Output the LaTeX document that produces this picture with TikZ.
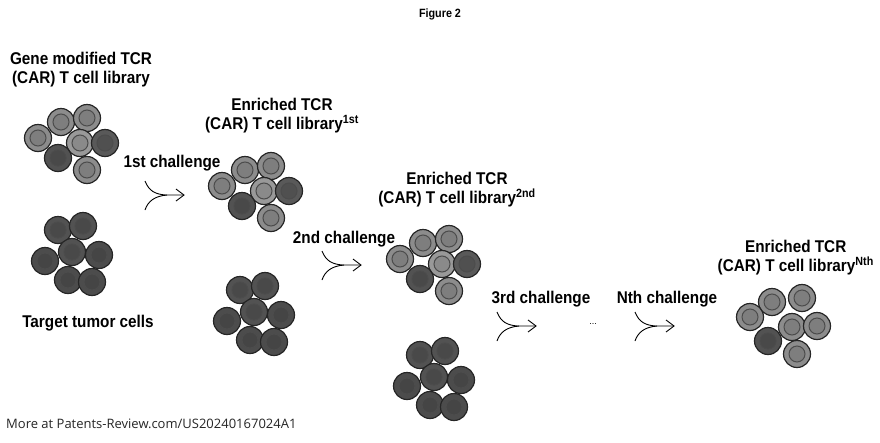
\documentclass[tikz,border=0pt]{standalone}
\usepackage{fontspec}
\setmainfont{Liberation Sans}[BoldFeatures={FakeStretch=0.9}]
\newfontfamily\foot{Open Sans}
\begin{document}
\begin{tikzpicture}[x=1pt,y=-1pt,
  lbl/.style={font=\bfseries\fontsize{17}{19}\selectfont,align=center,inner sep=0pt},
  arr/.style={line width=0.9pt}]
\useasboundingbox (0,0) rectangle (880,442);
\fill[white] (0,0) rectangle (880,442);
\newcommand\cell[3]{% x y shade
  \fill[black!#3] (#1,#2) circle (13.5);
  \draw[line width=1.2pt,black!85] (#1,#2) circle (13.5);
  \draw[line width=1pt,black!70,fill=black!#3!white!90!black] (#1,#2) circle (8);
}
\newcommand\lib[2]{\begin{scope}[shift={(#1,#2)}]
 \cell{0}{0}{45}\cell{26}{-4}{45}\cell{-23}{16}{45}\cell{19}{21}{40}\cell{44}{21}{65}\cell{-3}{36}{68}\cell{26}{48}{45}
\end{scope}}
\newcommand\tgt[2]{\begin{scope}[shift={(#1,#2)}]
 \cell{0}{0}{68}\cell{25}{-4}{68}\cell{-13}{31}{70}\cell{14}{22}{68}\cell{41}{25}{70}\cell{10}{50}{70}\cell{34}{52}{70}
\end{scope}}
\newcommand\chal[2]{\begin{scope}[shift={(#1,#2)}]
 \draw[arr] (0,0) .. controls (4,10) and (10,13) .. (20,14) -- (38,14);
 \draw[arr] (0,29) .. controls (3,20) and (10,15) .. (22,14);
 \draw[arr] (31,8) -- (39,14) -- (31,20);
\end{scope}}
\node[font=\bfseries\fontsize{12}{13}\selectfont] (fig) at (440,14) {Figure 2};
\lib{61}{122}
\tgt{58}{230}
\lib{245}{170}
\tgt{240}{290}
\lib{423}{243}
\tgt{420}{355}
\begin{scope}[shift={(772,302)}]
 \cell{0}{0}{45}\cell{30}{-4}{45}\cell{-22}{15}{45}\cell{20}{25}{45}\cell{45}{24}{45}\cell{-4}{39}{68}\cell{25}{52}{45}
\end{scope}
\node[lbl] (t1) at (81,70) {Gene modified TCR\\(CAR) T cell library};
\node[lbl] (t2) at (282,116) {Enriched TCR\\(CAR) T cell library\textsuperscript{1st}};
\node[lbl] (t3) at (457,190) {Enriched TCR\\(CAR) T cell library\textsuperscript{2nd}};
\node[lbl,anchor=east] (t4) at (874,258) {Enriched TCR\\(CAR) T cell library\textsuperscript{Nth}};
\node[lbl] (tt) at (88,323) {Target tumor cells};
\node[lbl] (c1) at (172,163) {1st challenge};
\node[lbl] (c2) at (344,239) {2nd challenge};
\node[lbl] (c3) at (541,299) {3rd challenge};
\node[lbl] (cn) at (667,299) {Nth challenge};
\node[font=\fontsize{9}{9}\selectfont] (dots) at (593,324) {...};
\chal{145}{181}
\chal{322}{251}
\chal{497}{312}
\chal{635}{312}
\node[font=\foot\fontsize{13}{15}\selectfont,anchor=west,inner sep=0pt,text=black!85] (ft) at (6,424) {More at Patents-Review.com/US20240167024A1};
\end{tikzpicture}
\end{document}
